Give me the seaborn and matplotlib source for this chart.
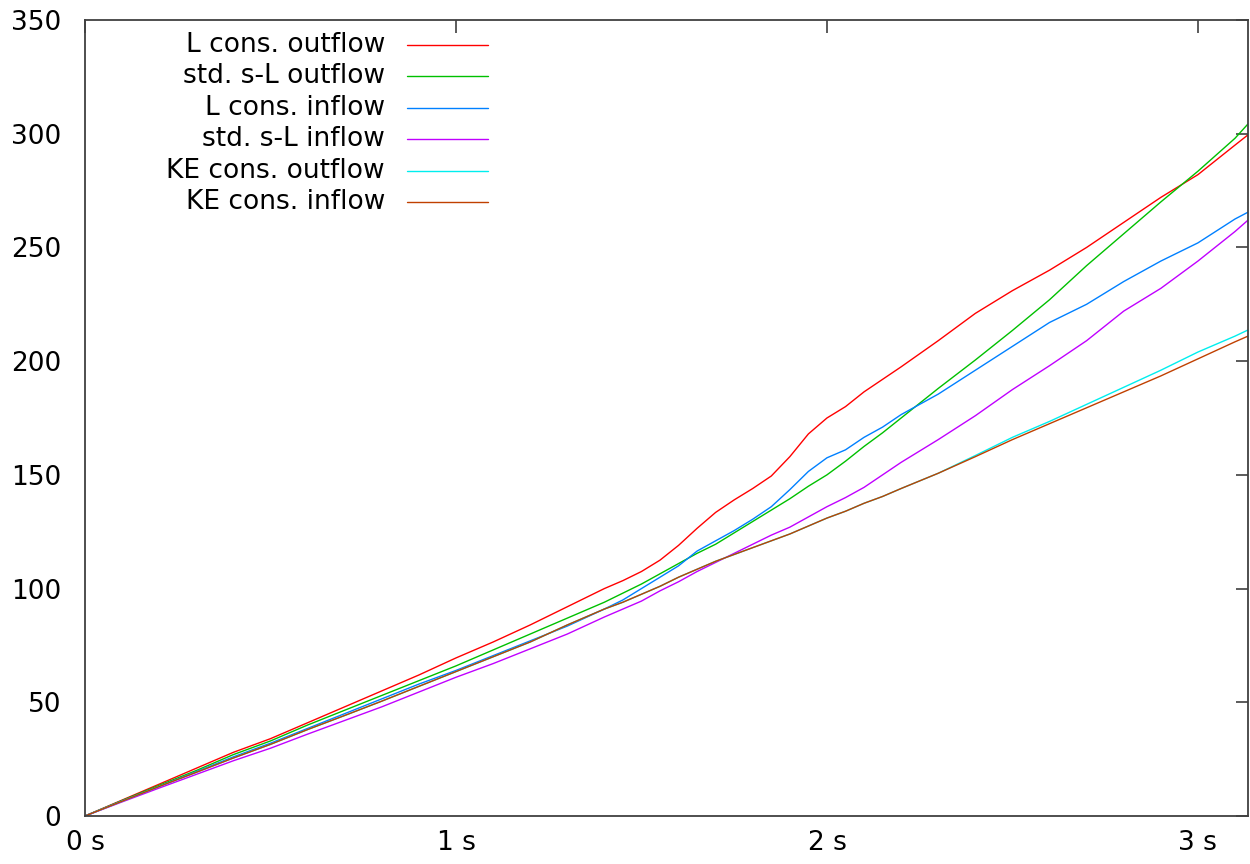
import numpy as np
import pandas as pd
import matplotlib
matplotlib.use("Agg")
import matplotlib.pyplot as plt
import seaborn as sns

# time grid (s) and cumulative values
t = [0.0, 0.1, 0.2, 0.3, 0.4, 0.5, 0.6, 0.7, 0.8, 0.9, 1.0, 1.1, 1.2, 1.3, 1.4,
     1.45, 1.5, 1.55, 1.6, 1.65, 1.7, 1.75, 1.8, 1.85, 1.9, 1.95, 2.0, 2.05, 2.1, 2.15, 2.2,
     2.3, 2.4, 2.5, 2.6, 2.7, 2.8, 2.9, 3.0, 3.1, 3.135]

l_cons_out = [0, 7, 14, 21, 28, 34, 41, 48, 55, 62, 69.5, 76.5, 84, 92, 100,
              103.5, 107.5, 112.5, 119, 126.5, 133.5, 139, 144, 149.5, 158, 168, 175, 180, 186.5, 192, 197.5,
              209, 221, 231, 240, 250, 261, 272, 282, 295, 299.5]
std_sl_out = [0, 6.8, 13.5, 20, 27, 33, 40, 46.5, 53, 59.5, 66, 73, 80, 87, 94,
              98, 102, 106.5, 111, 115.5, 119.5, 124.5, 129.5, 134.5, 139.5, 145, 150, 156, 162.5, 168.5, 175,
              188, 200.5, 213.5, 227, 242, 256, 270, 283.5, 298, 304.3]
l_cons_in = [0, 6.6, 13, 19.5, 26, 32, 38.5, 45, 51.5, 58, 64, 70.5, 77, 83.5, 91,
             95, 100, 105, 110, 116.5, 121, 125.5, 130.5, 136, 143.5, 151.5, 157.5, 161, 166.5, 171, 176.5,
             185.5, 196, 206.5, 217, 225, 235, 244, 252, 262.5, 265.5]
std_sl_in = [0, 6.2, 12.3, 18.3, 24.3, 29.8, 36, 42, 48, 54.5, 61, 67, 73.5, 80, 87.5,
             91, 94.5, 99, 103, 107.5, 111.5, 115.5, 119.5, 123.5, 127, 131.5, 136, 140, 144.5, 150, 155.5,
             165.5, 176, 187.5, 198, 209, 222, 232, 244, 257, 262]
ke_cons_out = [0, 6.5, 13, 19.2, 25.5, 31.5, 38, 44.2, 50.5, 57, 63.5, 70, 76.5, 84, 91,
               94, 97.5, 101, 105, 108.5, 112, 115, 118, 121, 124, 127.5, 131, 134, 137.5, 140.5, 144,
               150.7, 158.5, 166.5, 173.5, 181, 188.5, 196, 204, 211, 213.7]
ke_cons_in = [0, 6.5, 13, 19.2, 25.5, 31.5, 38, 44.2, 50.5, 57, 63.5, 70, 76.5, 84, 91,
              94, 97.5, 101, 105, 108.5, 112, 115, 118, 121, 124, 127.5, 131, 134, 137.5, 140.5, 144,
              150.7, 158, 165.5, 172.5, 179.5, 186.5, 193.5, 201, 208.5, 211]

labels = ["L cons. outflow", "std. s-L outflow", "L cons. inflow",
          "std. s-L inflow", "KE cons. outflow", "KE cons. inflow"]
series = [l_cons_out, std_sl_out, l_cons_in, std_sl_in, ke_cons_out, ke_cons_in]
colors = ["#ff0000", "#00c000", "#0080ff", "#c000ff", "#00eeee", "#c04000"]

x_ticks = [0, 1, 2, 3]
x_ticklabels = ["0 s", "1 s", "2 s", "3 s"]
y_ticks = [0, 50, 100, 150, 200, 250, 300, 350]

frames = []
for name, vals in zip(labels, series):
    frames.append(pd.DataFrame({"t": t, "value": vals, "series": name}))
df = pd.concat(frames, ignore_index=True)

sns.set_style("white")
plt.rcParams["font.family"] = ["DejaVu Sans"]
plt.rcParams["text.color"] = "black"
plt.rcParams["xtick.color"] = "black"
plt.rcParams["ytick.color"] = "black"

fig = plt.figure(figsize=(12.5, 8.64), dpi=100)
ax = fig.add_axes([85 / 1250, 48 / 864, 1163 / 1250, 796 / 864])

sns.lineplot(data=df, x="t", y="value", hue="series", hue_order=labels,
             palette=colors, estimator=None, sort=False, linewidth=1.0,
             legend=False, ax=ax)

ax.set_xlim(0, 3.135)
ax.set_ylim(0, 350)
ax.set_xticks(x_ticks)
ax.set_xticklabels(x_ticklabels)
ax.set_yticks(y_ticks)
ax.set_xlabel("")
ax.set_ylabel("")
ax.tick_params(direction="in", length=9, width=1.2, color="#404040",
               labelcolor="black", labelsize=19, top=True, right=True)
ax.tick_params(axis="y", pad=17)
ax.tick_params(axis="x", pad=10)
for sp in ax.spines.values():
    sp.set_color("#404040")
    sp.set_linewidth(1.3)

# gnuplot-style key: right-aligned labels, line sample on the right
row_h = 31.4 / 796
y0 = 1 - (45 - 20) / 796
for i, (name, c) in enumerate(zip(labels, colors)):
    yy = y0 - i * row_h
    ax.text((385 - 85) / 1163, yy, name, transform=ax.transAxes,
            ha="right", va="center", fontsize=19, color="black")
    ax.plot([(407 - 85) / 1163, (488 - 85) / 1163], [yy, yy],
            transform=ax.transAxes, color=c, linewidth=1.0)

fig.savefig("out.png", dpi=100)
